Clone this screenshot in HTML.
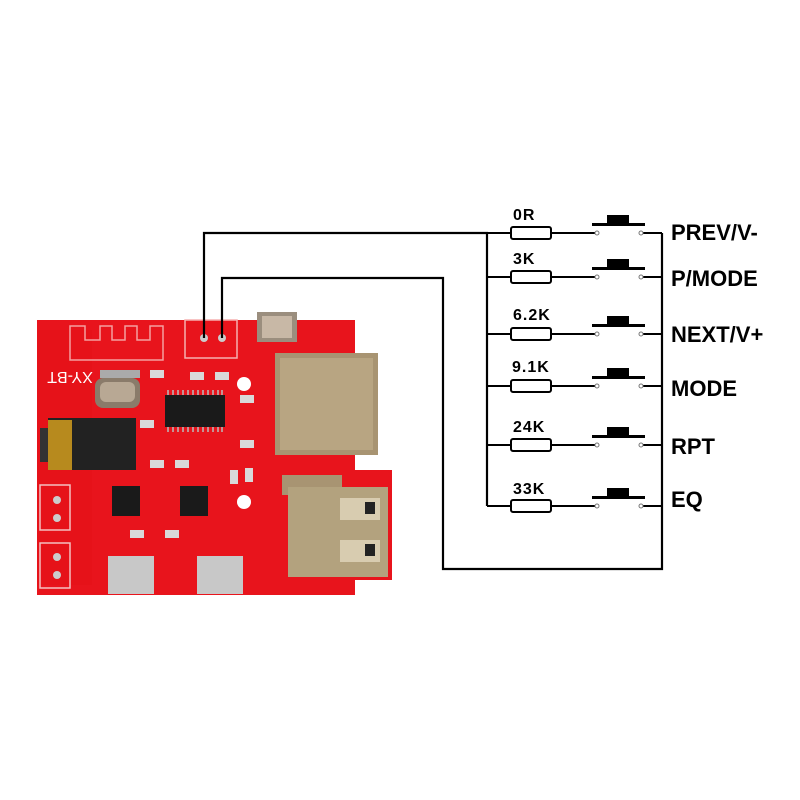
<!DOCTYPE html>
<html><head><meta charset="utf-8"><style>
html,body{margin:0;padding:0;background:#fff;}
svg{display:block;}
</style></head><body>
<svg width="800" height="800" viewBox="0 0 800 800" xmlns="http://www.w3.org/2000/svg">
<rect width="800" height="800" fill="#fff"/>
<!-- PCB -->
<path d="M37 320 L355 320 L355 470 L392 470 L392 580 L355 580 L355 595 L37 595 Z" fill="#e8141c"/>
<rect x="37" y="330" width="55" height="255" fill="#e41018" opacity="0.6"/>
<!-- antenna -->
<path d="M70 360 V326 H85 V340 H100 V326 H112 V340 H125 V326 H137 V340 H150 V326 H163 V360 Z" fill="none" stroke="#f4a0a0" stroke-width="1.5"/>
<rect x="185" y="320" width="52" height="38" fill="none" stroke="#f6b0b0" stroke-width="1.5"/>
<text x="70" y="384" text-anchor="middle" font-family="Liberation Sans,sans-serif" font-size="16" fill="#fff" transform="rotate(180 70 378)">XY-BT</text>
<!-- crystal -->
<rect x="95" y="378" width="45" height="30" rx="8" fill="#8a7b6a"/>
<rect x="100" y="382" width="35" height="20" rx="6" fill="#b8a894"/>
<rect x="100" y="370" width="40" height="8" fill="#aaa"/>
<!-- main IC -->
<rect x="165" y="395" width="60" height="32" fill="#1a1a1a"/>
<g stroke="#bbb" stroke-width="1.5">
<path d="M168 390v5M173 390v5M178 390v5M183 390v5M188 390v5M193 390v5M198 390v5M203 390v5M208 390v5M213 390v5M218 390v5M222 390v5"/>
<path d="M168 427v5M173 427v5M178 427v5M183 427v5M188 427v5M193 427v5M198 427v5M203 427v5M208 427v5M213 427v5M218 427v5M222 427v5"/>
</g>
<!-- headphone jack -->
<rect x="48" y="418" width="88" height="52" fill="#222"/>
<rect x="40" y="428" width="12" height="34" fill="#333"/>
<rect x="48" y="420" width="24" height="50" fill="#b78a1e"/>
<!-- small ICs -->
<rect x="112" y="486" width="28" height="30" fill="#1a1a1a"/>
<rect x="180" y="486" width="28" height="30" fill="#1a1a1a"/>
<g fill="#d9d9d9">
<rect x="150" y="370" width="14" height="8"/><rect x="190" y="372" width="14" height="8"/><rect x="215" y="372" width="14" height="8"/>
<rect x="140" y="420" width="14" height="8"/><rect x="150" y="460" width="14" height="8"/><rect x="175" y="460" width="14" height="8"/>
<rect x="240" y="440" width="14" height="8"/><rect x="230" y="470" width="8" height="14"/><rect x="245" y="468" width="8" height="14"/>
<rect x="130" y="530" width="14" height="8"/><rect x="165" y="530" width="14" height="8"/><rect x="240" y="395" width="14" height="8"/>
</g>
<circle cx="244" cy="384" r="7" fill="#fff"/>
<circle cx="244" cy="502" r="7" fill="#fff"/>
<!-- IR receiver -->
<rect x="257" y="312" width="40" height="30" fill="#9b8e7e"/>
<rect x="262" y="316" width="30" height="22" fill="#c8b8a6"/>
<!-- SD card -->
<rect x="275" y="353" width="103" height="102" fill="#a89472"/>
<rect x="280" y="358" width="93" height="92" fill="#b8a582"/>
<!-- USB -->
<rect x="282" y="475" width="60" height="20" fill="#a89472"/>
<rect x="288" y="487" width="100" height="90" fill="#b3a27e"/>
<rect x="340" y="498" width="40" height="22" fill="#d8ccb0"/>
<rect x="340" y="540" width="40" height="22" fill="#d8ccb0"/>
<rect x="365" y="502" width="10" height="12" fill="#222"/>
<rect x="365" y="544" width="10" height="12" fill="#222"/>
<!-- micro USB -->
<rect x="108" y="556" width="46" height="38" fill="#c8c8c8"/>
<rect x="197" y="556" width="46" height="38" fill="#c8c8c8"/>
<!-- terminals -->
<rect x="40" y="485" width="30" height="45" fill="none" stroke="#f4c0c0" stroke-width="1.5"/>
<rect x="40" y="543" width="30" height="45" fill="none" stroke="#f4c0c0" stroke-width="1.5"/>
<circle cx="57" cy="500" r="4" fill="#ccc"/><circle cx="57" cy="518" r="4" fill="#ccc"/>
<circle cx="57" cy="557" r="4" fill="#ccc"/><circle cx="57" cy="575" r="4" fill="#ccc"/>
<circle cx="204" cy="338" r="4" fill="#ccc"/><circle cx="222" cy="338" r="4" fill="#ccc"/>

<!-- wires -->
<g fill="none" stroke="#000" stroke-width="2.2">
<path d="M204 338 V233 H487 V506"/>
<path d="M222 338 V278 H443 V569 H662 V233"/>
</g>
<g stroke="#000" stroke-width="2" fill="none">
<path d="M487 233H511M551 233H595M643 233H662"/>
<path d="M487 277H511M551 277H595M643 277H662"/>
<path d="M487 334H511M551 334H595M643 334H662"/>
<path d="M487 386H511M551 386H595M643 386H662"/>
<path d="M487 445H511M551 445H595M643 445H662"/>
<path d="M487 506H511M551 506H595M643 506H662"/>
<rect x="511" y="227" width="40" height="12" rx="2" fill="#fff"/>
<rect x="511" y="271" width="40" height="12" rx="2" fill="#fff"/>
<rect x="511" y="328" width="40" height="12" rx="2" fill="#fff"/>
<rect x="511" y="380" width="40" height="12" rx="2" fill="#fff"/>
<rect x="511" y="439" width="40" height="12" rx="2" fill="#fff"/>
<rect x="511" y="500" width="40" height="12" rx="2" fill="#fff"/>
</g>
<g fill="#000">
<rect x="592" y="223" width="53" height="3"/><rect x="607" y="215" width="22" height="9"/>
<rect x="592" y="267" width="53" height="3"/><rect x="607" y="259" width="22" height="9"/>
<rect x="592" y="324" width="53" height="3"/><rect x="607" y="316" width="22" height="9"/>
<rect x="592" y="376" width="53" height="3"/><rect x="607" y="368" width="22" height="9"/>
<rect x="592" y="435" width="53" height="3"/><rect x="607" y="427" width="22" height="9"/>
<rect x="592" y="496" width="53" height="3"/><rect x="607" y="488" width="22" height="9"/>
</g>
<g fill="#fff" stroke="#777" stroke-width="1">
<circle cx="597" cy="233" r="2"/><circle cx="641" cy="233" r="2"/>
<circle cx="597" cy="277" r="2"/><circle cx="641" cy="277" r="2"/>
<circle cx="597" cy="334" r="2"/><circle cx="641" cy="334" r="2"/>
<circle cx="597" cy="386" r="2"/><circle cx="641" cy="386" r="2"/>
<circle cx="597" cy="445" r="2"/><circle cx="641" cy="445" r="2"/>
<circle cx="597" cy="506" r="2"/><circle cx="641" cy="506" r="2"/>
</g>
<g font-family="Liberation Sans,sans-serif" font-weight="bold" fill="#000" font-size="16" letter-spacing="1">
<text x="513" y="220">0R</text>
<text x="513" y="264">3K</text>
<text x="513" y="320">6.2K</text>
<text x="512" y="372">9.1K</text>
<text x="513" y="432">24K</text>
<text x="513" y="494">33K</text>
</g>
<g font-family="Liberation Sans,sans-serif" font-weight="bold" fill="#000" font-size="22">
<text x="671" y="240">PREV/V-</text>
<text x="671" y="286">P/MODE</text>
<text x="671" y="342">NEXT/V+</text>
<text x="671" y="396">MODE</text>
<text x="671" y="454">RPT</text>
<text x="671" y="507">EQ</text>
</g>
</svg>
</body></html>
